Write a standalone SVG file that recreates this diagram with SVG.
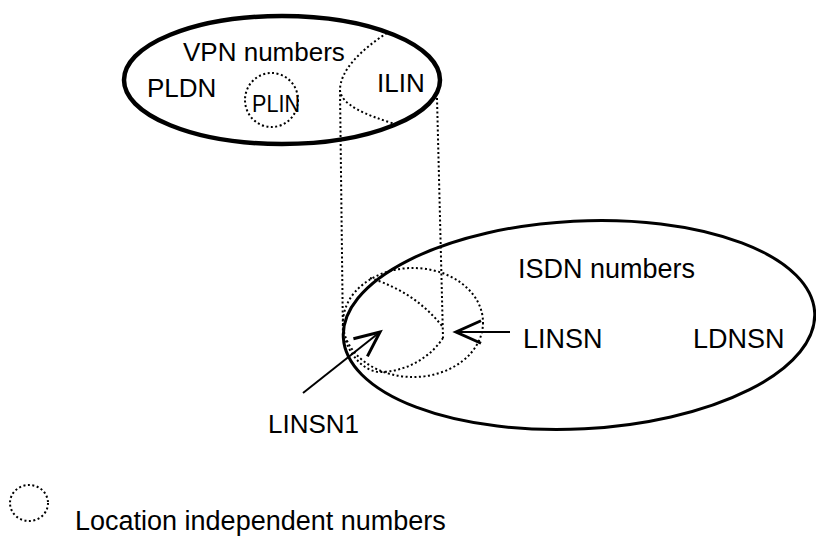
<svg xmlns="http://www.w3.org/2000/svg" width="816" height="536" viewBox="0 0 816 536">
  <style>
    .lbl { font-family: "Liberation Sans", Arial, sans-serif; fill: #000; }
    .solid { fill: none; stroke: #000; }
    .dot { fill: none; stroke: #000; stroke-width: 2; stroke-dasharray: 2 2.5; }
    .arrow { fill: none; stroke: #000; stroke-width: 2; marker-end: url(#openHead); }
  </style>
  <defs>
    <marker id="openHead" markerUnits="userSpaceOnUse" orient="auto" markerWidth="30" markerHeight="30" refX="0" refY="0" viewBox="-22 -12 24 24" overflow="visible">
      <path d="M-20,-9 L0,0 L-20,9" fill="none" stroke="#000" stroke-width="2.4"/>
    </marker>
  </defs>
  <rect width="816" height="536" fill="#fff"/>

  <!-- VPN number space -->
  <g id="vpn-numbers">
    <ellipse class="solid" cx="282" cy="80" rx="158" ry="64" stroke-width="4.5"/>
    <text class="lbl" x="183" y="61" font-size="26">VPN numbers</text>
    <text class="lbl" x="147" y="97" font-size="26">PLDN</text>
  </g>

  <g id="plin">
    <ellipse class="dot" cx="271.5" cy="100" rx="26.5" ry="27"/>
    <text class="lbl" x="252" y="112" font-size="24" textLength="48" lengthAdjust="spacingAndGlyphs">PLIN</text>
  </g>

  <g id="ilin">
    <path class="dot" d="M387,33 C362,49 340,70 340,90 C341,105 366,115 395,124"/>
    <text class="lbl" x="377" y="92" font-size="26">ILIN</text>
  </g>

  <!-- ISDN number space -->
  <g id="isdn-numbers">
    <ellipse class="solid" cx="579" cy="325" rx="236" ry="104" stroke-width="3" transform="rotate(-3 579 325)"/>
    <text class="lbl" x="518" y="278" font-size="27">ISDN numbers</text>
    <text class="lbl" x="693" y="348" font-size="27">LDNSN</text>
  </g>

  <g id="linsn">
    <ellipse class="dot" cx="413" cy="322.5" rx="70" ry="54.5"/>
    <text class="lbl" x="523" y="348" font-size="27">LINSN</text>
  </g>

  <g id="linsn1">
    <path class="dot" d="M370,278 Q415,292 442,326"/>
    <path class="dot" d="M443,338 C430,358 405,372 380,372 C365,372 350,356 345,338"/>
    <text class="lbl" x="268" y="433" font-size="26">LINSN1</text>
  </g>

  <!-- projection lines and pointers -->
  <g id="connectors">
    <line class="dot" x1="340" y1="90" x2="343" y2="338"/>
    <line class="dot" x1="437" y1="98" x2="443" y2="338"/>
    <line class="arrow" x1="510" y1="332" x2="456" y2="332"/>
    <line class="arrow" x1="303" y1="393" x2="380" y2="332"/>
  </g>

  <g id="legend">
    <ellipse class="dot" cx="29" cy="503" rx="19" ry="18"/>
    <text class="lbl" x="75" y="530" font-size="27">Location independent numbers</text>
  </g>
</svg>
